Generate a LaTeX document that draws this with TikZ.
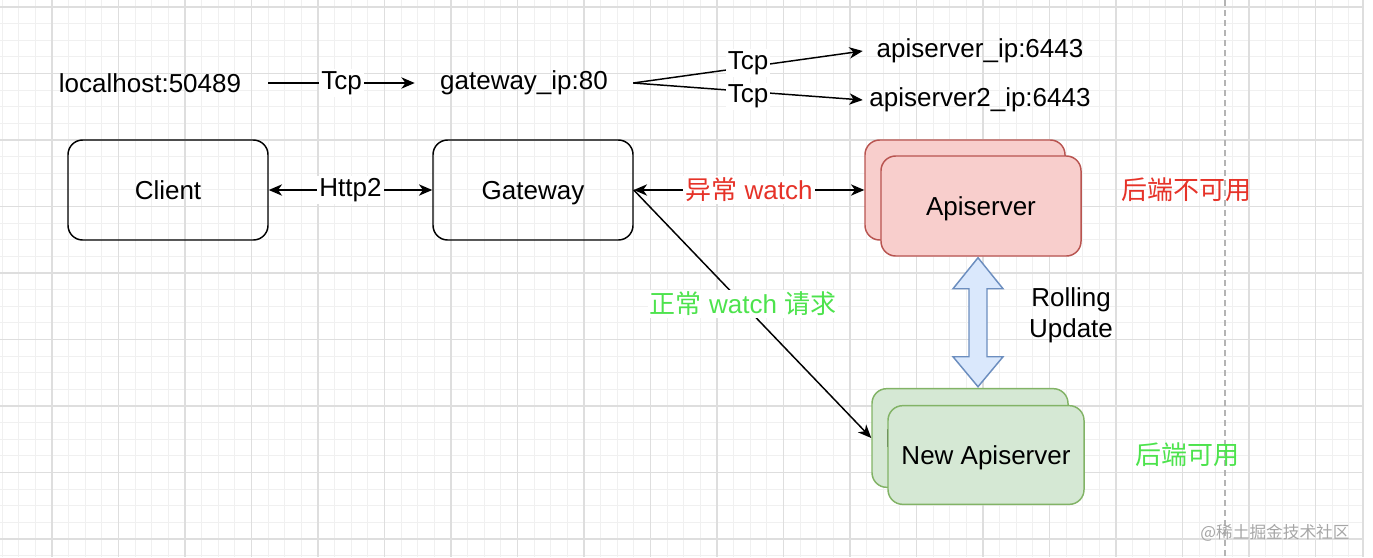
\documentclass[tikz,border=0pt]{standalone}
\usepackage{fontspec}
\setmainfont{Liberation Sans}
\newfontfamily\cjk{Noto Sans CJK SC}
\usetikzlibrary{arrows.meta,calc}

\definecolor{gridminor}{RGB}{240,240,240}
\definecolor{gridmajor}{RGB}{222,222,222}
\definecolor{dashgrey}{RGB}{180,180,180}
\definecolor{badred}{HTML}{E63228}
\definecolor{okgreen}{HTML}{4DE34D}
\definecolor{apifill}{HTML}{F8CECC}
\definecolor{apistroke}{HTML}{B85450}
\definecolor{newfill}{HTML}{D5E8D4}
\definecolor{newstroke}{HTML}{82B366}
\definecolor{rollfill}{HTML}{DAE8FC}
\definecolor{rollstroke}{HTML}{6C8EBF}

\tikzset{
  box/.style={draw, rounded corners=11pt, minimum width=150pt, minimum height=75pt, line width=1.1pt, text height=14pt, text depth=0pt},
  conn/.style={line width=1.1pt, arrows={-Stealth[length=10pt, width=8.5pt, inset=3pt]}},
  conn2/.style={line width=1.1pt, arrows={Stealth[length=10pt, width=8.5pt, inset=3pt]-Stealth[length=10pt, width=8.5pt, inset=3pt]}},
  edgelabel/.style={fill=white, inner sep=1.5pt}
}

\begin{document}
\begin{tikzpicture}[x=0.75pt, y=-0.75pt, font=\fontsize{19.5pt}{23.5pt}\selectfont]

    % Fix the page size
    \useasboundingbox (0,0) rectangle (1373,557);

    % Draw the grid of the canvas
    \pgfmathsetmacro{\minorstep}{16.625}
    \begin{scope}
        \clip (0,0) rectangle (1363,557);
        \foreach \i in {-3,...,79}
            \draw[gridminor, line width=0.75pt] ({52+\i*\minorstep},0) -- ({52+\i*\minorstep},557);
        \foreach \j in {-1,...,33}
            \draw[gridminor, line width=0.75pt] (0,{7+\j*\minorstep}) -- (1363,{7+\j*\minorstep});
        \foreach \i in {-1,...,19}
            \draw[gridmajor, line width=0.9pt] ({52+4*\i*\minorstep},0) -- ({52+4*\i*\minorstep},557);
        \foreach \j in {0,...,8}
            \draw[gridmajor, line width=0.9pt] (0,{7+4*\j*\minorstep}) -- (1363,{7+4*\j*\minorstep});
    \end{scope}
    \draw[gridmajor, line width=0.9pt] (1363,0) -- (1363,557);

    % Draw the dashed page break
    \draw[dashgrey, line width=1.5pt, dash pattern=on 4.5pt off 3pt] (1225,0) -- (1225,557);

    % Draw the tcp path on top
    \node[minimum width=177pt] (localhost) at (150,83) {localhost:50489};
    \node[minimum width=163.5pt] (gatewayip) at (524,83) {gateway\_ip:80};
    \node[minimum width=175.5pt] (apiip) at (980,51) {apiserver\_ip:6443};
    \node[minimum width=175.5pt] (apiipb) at (980,100) {apiserver2\_ip:6443};
    \draw[conn] (localhost.east) -- (gatewayip.west) node[midway, edgelabel] {Tcp};
    \draw[conn] (gatewayip.east) -- (apiip.west) node[midway, edgelabel, yshift=3pt] {Tcp};
    \draw[conn] (gatewayip.east) -- (apiipb.west) node[midway, edgelabel, yshift=-3.5pt] {Tcp};

    % Draw Client and Gateway boxes
    \node[box] (client) at (168,190) {Client};
    \node[box] (gateway) at (533,190) {Gateway};
    \draw[conn2] (client) -- (gateway) node[midway, edgelabel] {Http2};

    % Draw the old apiserver stack
    \node[box, fill=apifill, draw=apistroke] (apiback) at (965,190) {};
    \node[box, fill=apifill, draw=apistroke] (apifront) at (981,206) {Apiserver};
    \node[text=badred] (apidown) at (1186,190) {\cjk 后端不可用};

    % Draw the new apiserver stack
    \node[box, fill=newfill, draw=newstroke, minimum width=147pt, minimum height=74pt] (newback) at (970,438) {New Apiserver};
    \node[box, fill=newfill, draw=newstroke, minimum width=147pt, minimum height=74pt] (newfront) at (986,455) {New Apiserver};
    \node[text=okgreen] (newup) at (1187,455) {\cjk 后端可用};

    % Draw the watch connections from the gateway
    \draw[conn2] (gateway.east) -- (apiback.west) node[midway, edgelabel, text=badred] {{\cjk 异常} watch};
    \draw[conn] (gateway.east) -- (newback.west) node[pos=0.46, edgelabel, text=okgreen] {{\cjk 正常} watch {\cjk 请求}};

    % Draw the rolling update block arrow
    \coordinate (rolltop) at ($(apifront.south)+(-3,1)$);
    \draw[fill=rollfill, draw=rollstroke, line width=1.1pt, line join=miter]
        (rolltop) -- ++(25,31) -- ++(-16,0) -- ++(0,68) -- ++(16,0) -- ++(-25,30)
        -- ++(-25,-30) -- ++(16,0) -- ++(0,-68) -- ++(-16,0) -- cycle;
    \node[align=center] (rolling) at (1071,315) {Rolling\\Update};

    % Watermark
    \node[text=black!35, font=\fontsize{12.5pt}{15pt}\selectfont] (mark) at (1275,533) {\cjk @稀土掘金技术社区};
\end{tikzpicture}
\end{document}
